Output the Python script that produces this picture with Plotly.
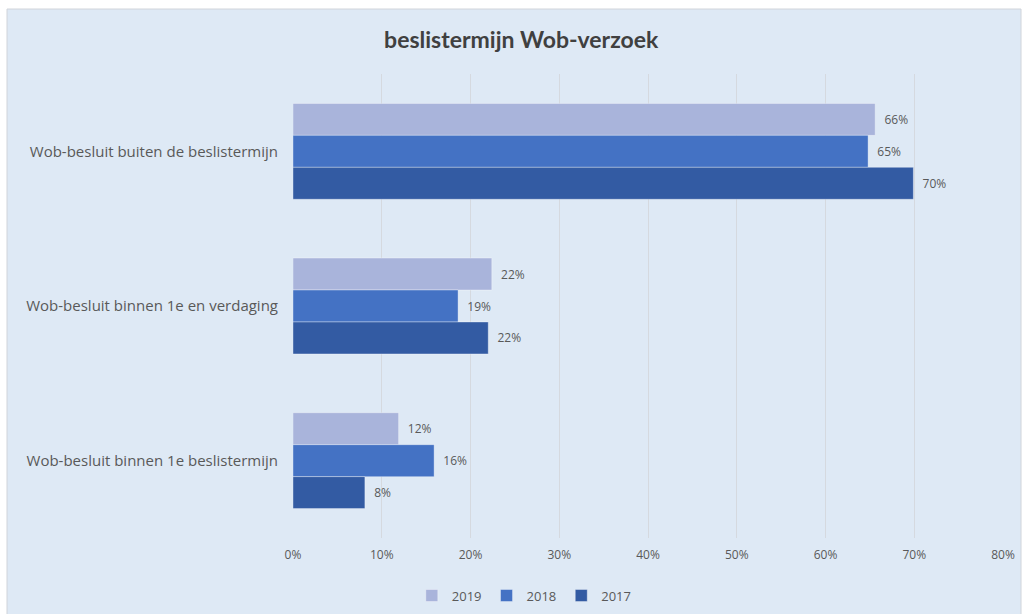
import plotly.graph_objects as go

categories = [
    "Wob-besluit buiten de beslistermijn",
    "Wob-besluit binnen 1e en verdaging",
    "Wob-besluit binnen 1e beslistermijn",
]
series_names = ["2019", "2018", "2017"]
values_2019 = [65.6, 22.4, 11.9]
values_2018 = [64.8, 18.6, 15.9]
values_2017 = [69.9, 22.0, 8.1]
colors = ["#A9B4DB", "#4472C4", "#335BA3"]
tick_vals = [0, 10, 20, 30, 40, 50, 60, 70, 80]
tick_labels = ["0%", "10%", "20%", "30%", "40%", "50%", "60%", "70%", "80%"]

BG = "#DEE9F5"
TXT = "#595959"
FONT = "Open Sans"

fig = go.Figure()
for name, vals, col in zip(series_names, [values_2019, values_2018, values_2017], colors):
    fig.add_trace(go.Bar(
        y=categories, x=vals, name=name, orientation="h",
        marker=dict(color=col, line=dict(color="rgba(255,255,255,0.35)", width=1)),
        text=[f"{round(v)}%" for v in vals],
        textposition="outside",
        texttemplate="  %{text}",
        textfont=dict(family=FONT, size=12, color=TXT),
        cliponaxis=False,
    ))

fig.update_layout(
    width=1022, height=614,
    margin=dict(l=293, r=19, t=74, b=76),
    paper_bgcolor="white",
    plot_bgcolor=BG,
    barmode="group",
    bargap=0.38,
    bargroupgap=0,
    title=dict(text="<b>beslistermijn Wob-verzoek</b>", x=0.51, xref="container",
               y=0.935, yref="container", xanchor="center", yanchor="middle",
               font=dict(family="Lato", size=23, color="#404040")),
    legend=dict(orientation="h", x=0.513, xref="container", y=0.03, yref="container",
                xanchor="center", yanchor="middle",
                font=dict(family=FONT, size=13, color=TXT),
                traceorder="normal", itemwidth=30, bgcolor="rgba(0,0,0,0)"),
    xaxis=dict(range=[0, 80], tickvals=tick_vals, ticktext=tick_labels,
               showgrid=True, gridcolor="#D5D9DF", gridwidth=1,
               zeroline=False, showline=False, automargin=False,
               tickfont=dict(family=FONT, size=12, color=TXT),
               ticklabelstandoff=8, fixedrange=True),
    yaxis=dict(autorange="reversed", showgrid=False, showline=False, automargin=False,
               tickfont=dict(family=FONT, size=15, color=TXT),
               ticklabelstandoff=14, fixedrange=True),
    shapes=[dict(type="rect", xref="paper", yref="paper",
                 x0=(7 - 293) / 710, x1=(1021 - 293) / 710,
                 y0=(538 - 615) / 464, y1=(538 - 9) / 464,
                 fillcolor=BG, line=dict(color="#D0D4DA", width=1), layer="below")],
)

fig.write_html("out.html")
